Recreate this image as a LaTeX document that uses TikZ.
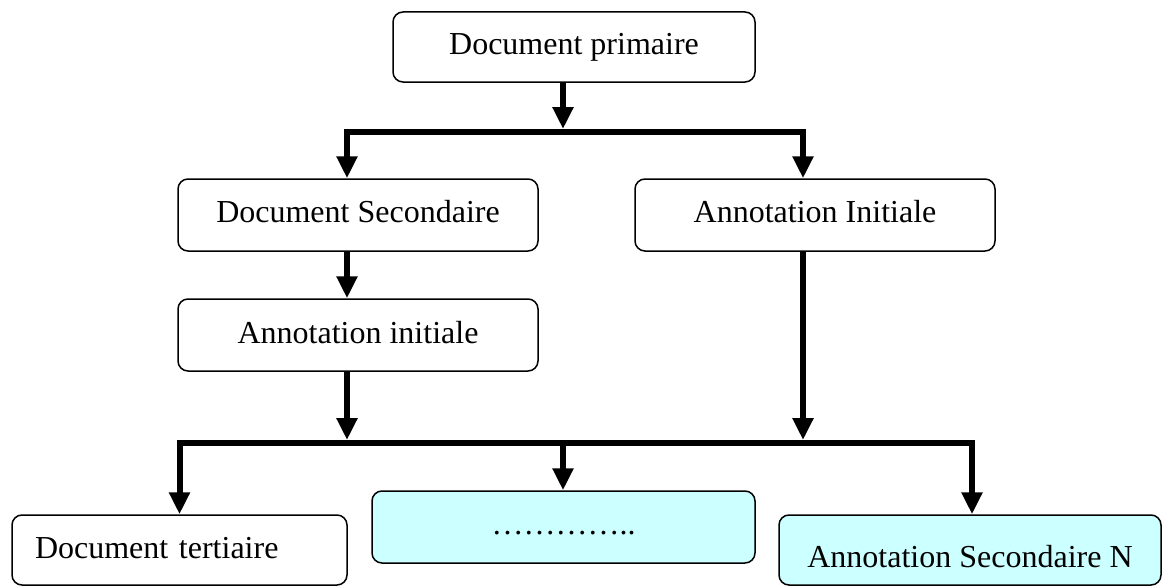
\documentclass[tikz,border=0pt]{standalone}
\usepackage{fontspec}
\setmainfont{Liberation Serif}
\usetikzlibrary{arrows.meta}
\definecolor{lightcyan}{HTML}{CCFFFF}
\begin{document}
\begin{tikzpicture}[x=1pt,y=-1pt,
  box/.style={draw, line width=1.5pt, rounded corners=10pt, inner sep=0pt,
    minimum height=72pt, text depth=0pt, text height=15pt,
    font=\fontsize{32}{38}\selectfont},
  arr/.style={line width=6pt, -{Triangle[width=20pt,length=22pt]}},
]
\fill[white] (0,0) rectangle (1167,586);
\useasboundingbox (0,0) rectangle (1167,586);

% nodes
\node[box, minimum width=362pt, minimum height=70pt, text height=16pt] (dp) at (574,47) {Document primaire};
\node[box, minimum width=360pt, text height=14pt] (ds) at (358,215) {Document Secondaire};
\node[box, minimum width=360pt, text height=14pt] (ai) at (815,215) {Annotation Initiale};
\node[box, minimum width=360pt, text height=16pt] (ain) at (358,335) {Annotation initiale};
\node[box, minimum width=335pt, minimum height=70pt, text height=16pt,
      text width=289pt, align=left] (dt) at (179.5,550) {Document tertiaire};
\node[box, fill=lightcyan, minimum width=383pt, text height=14pt] (cy) at (563.5,527) {…………..};
\node[box, fill=lightcyan, minimum width=382pt, minimum height=70pt, text height=34pt] (asn) at (970,550) {Annotation Secondaire N};

% junction points
\coordinate (tm) at (563,132);
\coordinate (bm) at (563,443);

% connectors
\draw[arr, shorten >=3pt] ([xshift=-11pt]dp.south) -- (tm);
\draw[arr] (tm) -| ([xshift=-11pt]ds.north);
\draw[arr] (tm) -| ([xshift=-12pt]ai.north);
\draw[arr] ([xshift=-11pt]ds.south) -- ([xshift=-11pt]ain.north);
\draw[arr, shorten >=3pt] ([xshift=-11pt]ain.south) -- ([xshift=-11pt]ain.south |- bm);
\draw[arr, shorten >=3pt] ([xshift=-12pt]ai.south) -- ([xshift=-12pt]ai.south |- bm);
\draw[arr] (bm) -| (dt.north);
\draw[arr] (bm) -- (bm |- cy.north);
\draw[arr] (bm) -| ([xshift=2pt]asn.north);
\end{tikzpicture}
\end{document}
